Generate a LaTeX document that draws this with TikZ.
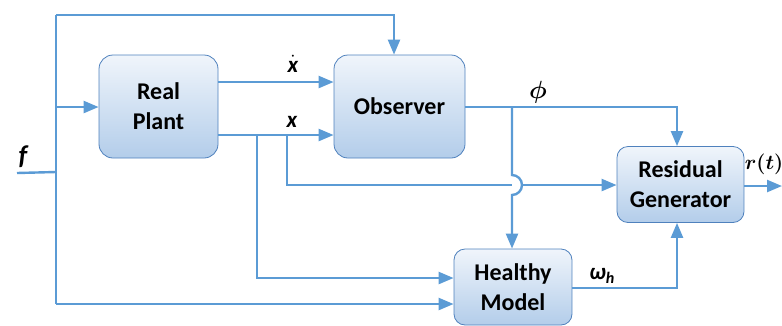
\documentclass[tikz,border=0pt]{standalone}
\usepackage{amsmath}
\usepackage{bm}
\usepackage{fontspec}
\setmainfont{Carlito}
\usetikzlibrary{arrows.meta}

\definecolor{flowblue}{HTML}{5B9BD5}
\definecolor{boxedge}{HTML}{4F81BD}
\definecolor{boxtop}{HTML}{F0F5FB}
\definecolor{boxbottom}{HTML}{B3CDEA}

\tikzset{
  block/.style={draw=boxedge, line width=0.8pt, rounded corners=14pt,
    top color=boxtop, bottom color=boxbottom, align=center, inner sep=0pt,
    font=\fontsize{24}{30}\selectfont\bfseries},
  flow/.style={draw=flowblue, line width=2.4pt,
    -{Triangle[length=15pt,width=12pt]}},
  wire/.style={draw=flowblue, line width=2.4pt},
  sig/.style={font=\fontsize{23}{25}\selectfont\bfseries\itshape, inner sep=0pt}
}

\begin{document}
\begin{tikzpicture}[x=1pt,y=-1pt]
   \useasboundingbox (0,0) rectangle (782,325);

   % blocks
   \node(plant)[block, minimum width=119pt, minimum height=103pt] at (158.5,106.5) {Real\\Plant};
   \node(observer)[block, minimum width=131pt, minimum height=103pt] at (399.5,106.5) {Observer};
   \node(residual)[block, rounded corners=11pt, minimum width=127pt, minimum height=76pt] at (680.5,184.5) {Residual\\Generator};
   \node(healthy)[block, rounded corners=11pt, minimum width=118pt, minimum height=76pt] at (513,287) {Healthy\\Model};

   % branch points
   \coordinate(fin) at (17,173);
   \coordinate(ftop) at (56,15);
   \coordinate(fbot) at (56,304);
   \coordinate(fmid) at (56,107);
   \coordinate(xa) at (257,135);
   \coordinate(xb) at (287,135);
   \coordinate(phiA) at (512,107);
   \coordinate(phiB) at (677,107);
   \coordinate(omega) at (677,288);
   \coordinate(hop) at (512,175);
   \coordinate(rout) at (782,186);

   % fault input
   \draw[wire] (fin) -- (56,172);
   \draw[wire] (ftop) -- (fbot);
   \draw[flow] (ftop) -- (394,15) -- (394,0 |- observer.north);
   \draw[flow] (fmid) -- (plant.west |- fmid);
   \draw[flow] (fbot) -- (healthy.west |- fbot);

   % plant outputs
   \draw[flow] (plant.east |- 0,82) -- (observer.west |- 0,82);
   \draw[flow] (plant.east |- xa) -- (observer.west |- xa);
   \draw[flow] (xa) -- (257,278) -- (healthy.west |- 0,278);
   \draw[wire] (xb) -- (287,185) -- (512,185);
   \draw[flow] (522,185) -- (residual.west |- 0,185);

   % observer output
   \draw[flow] (observer.east |- phiA) -- (phiB) -- (phiB |- residual.north);
   \draw[flow] (phiA) -- (hop) arc[start angle=90, end angle=-90, radius=10pt] -- (phiA |- healthy.north);

   % healthy model output
   \draw[flow] (healthy.east |- omega) -- (omega) -- (omega |- residual.south);
   \draw[flow] (residual.east |- rout) -- (rout);

   % labels
   \node(Lf)[sig, font=\fontsize{27}{29}\selectfont\bfseries\itshape] at (23,157) {f};
   \node(Lxd)[sig] at (293,64) {$\dot{\text{\bfseries\itshape x}}$};
   \node(Lx)[sig] at (292,122) {x};
   \node(Lphi) at (538,92) {\fontsize{24}{26}\selectfont$\bm{\phi}$};
   \node(Lw)[sig] at (602,276) {ω\textsubscript{h}};
   \node(Lr) at (764,164) {\fontsize{20}{22}\selectfont$\bm{r(t)}$};

  \end{tikzpicture}
\end{document}
